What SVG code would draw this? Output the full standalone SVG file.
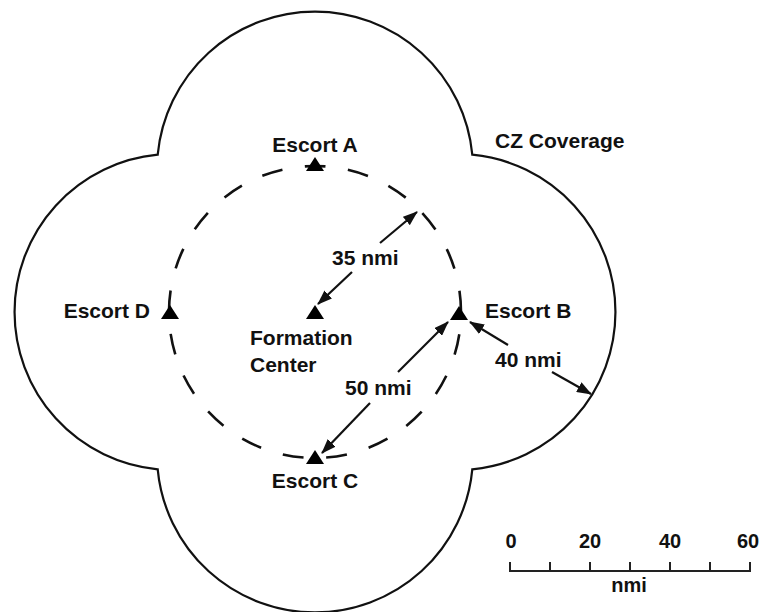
<svg xmlns="http://www.w3.org/2000/svg" width="761" height="612" viewBox="0 0 761 612">
<style>
text{font-family:"Liberation Sans",Arial,Helvetica,sans-serif;font-weight:bold;font-size:21px;fill:#111}
.lobe{fill:none;stroke:#111;stroke-width:2.2}
.dash{fill:none;stroke:#111;stroke-width:2.6;stroke-dasharray:21 22.68;stroke-dashoffset:10.5}
.tri{fill:#000}
.arr{stroke:#111;stroke-width:2.2;fill:none;marker-end:url(#ah)}
.sc{stroke:#222;stroke-width:2;fill:none}
.st{font-size:20px;text-anchor:middle}
</style>
<defs>
<marker id="ah" markerUnits="userSpaceOnUse" viewBox="0 0 15 11" refX="14" refY="5.5" markerWidth="15" markerHeight="11" orient="auto">
<path d="M0,0 L15,5.5 L0,11 Z" fill="#111"/>
</marker>
</defs>
<g id="coverage">
<path class="lobe" d="M157.7,154.7 A158,158 0 0 1 472.3,154.7 A158,158 0 0 1 472.3,469.3 A158,158 0 0 1 157.7,469.3 A158,158 0 0 1 157.7,154.7 Z"/>
<text x="495" y="148">CZ Coverage</text>
</g>
<g id="screen-circle">
<path class="dash" d="M315,166 A146,146 0 1 1 315,458 A146,146 0 1 1 315,166 Z"/>
</g>
<g id="escort-a">
<path class="tri" d="M315,157 L324,171 L306,171 Z"/>
<text x="315" y="152" text-anchor="middle">Escort A</text>
</g>
<g id="escort-b">
<path class="tri" d="M459,306 L468,320 L450,320 Z"/>
<text x="485" y="318">Escort B</text>
</g>
<g id="escort-c">
<path class="tri" d="M315,450 L324,464 L306,464 Z"/>
<text x="315" y="488" text-anchor="middle">Escort C</text>
</g>
<g id="escort-d">
<path class="tri" d="M170,305 L179,319 L161,319 Z"/>
<text x="150" y="318" text-anchor="end">Escort D</text>
</g>
<g id="formation-center">
<path class="tri" d="M315,305 L324,319 L306,319 Z"/>
<text x="250" y="345">Formation</text>
<text x="250" y="372">Center</text>
</g>
<g id="connectors">
<line class="arr" x1="380" y1="243" x2="417" y2="212"/>
<line class="arr" x1="352" y1="272" x2="318" y2="304"/>
<line class="arr" x1="398" y1="372" x2="448" y2="322"/>
<line class="arr" x1="370" y1="403" x2="322" y2="453"/>
<line class="arr" x1="508" y1="345" x2="470" y2="322"/>
<line class="arr" x1="552" y1="372" x2="591" y2="394"/>
</g>
<g id="labels">
<text x="332" y="265">35 nmi</text>
<text x="345" y="395">50 nmi</text>
<text x="495" y="367">40 nmi</text>
</g>
<g id="scale-bar">
<path class="sc" d="M510,562 V571 H750 V562 M550,562 V571 M590,562 V571 M630,562 V571 M670,562 V571 M710,562 V571"/>
<text class="st" x="511" y="548">0</text>
<text class="st" x="590" y="548">20</text>
<text class="st" x="670" y="548">40</text>
<text class="st" x="748" y="548">60</text>
<text class="st" x="629" y="592">nmi</text>
</g>
</svg>
